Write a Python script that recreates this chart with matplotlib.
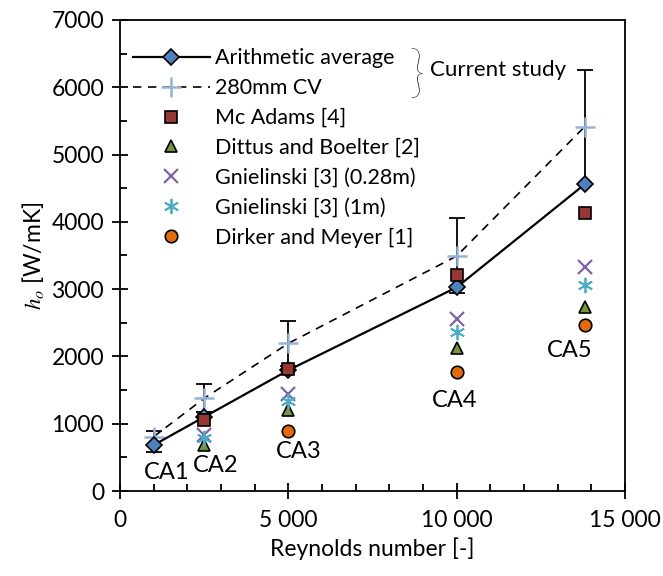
import numpy as np
import matplotlib.pyplot as plt
from matplotlib.ticker import MultipleLocator, FuncFormatter

plt.rcParams['font.family'] = ['Lato', 'DejaVu Sans']
plt.rcParams['mathtext.fontset'] = 'stix'

# Reynolds numbers of the five cases
re = [1000, 2500, 5000, 10000, 13800]
case_labels = ['CA1', 'CA2', 'CA3', 'CA4', 'CA5']

# heat transfer coefficient h_o [W/mK]
arith_avg = [683, 1100, 1795, 3027, 4557]
cv_280 = [807, 1377, 2194, 3492, 5413]
cv_low = [580, 1170, 1860, 2937, 4560]
cv_high = [896, 1585, 2526, 4057, 6256]
mc_adams = [np.nan, 1055, 1813, 3210, 4126]
dittus = [np.nan, 683, 1204, 2120, 2739]
gniel_028 = [np.nan, 832, 1445, 2551, 3324]
gniel_1 = [np.nan, 788, 1340, 2367, 3061]
dirker = [np.nan, np.nan, 894, 1773, 2467]

# where the case names sit
label_x = [1390, 2850, 5300, 9930, 13370]
label_y = [282, 386, 580, 1352, 2095]

fig = plt.figure(figsize=(6.63, 5.76), dpi=100)
ax = fig.add_axes([120 / 663, 85 / 576, 505 / 663, 471 / 576])

yerr = [np.array(cv_280) - np.array(cv_low), np.array(cv_high) - np.array(cv_280)]
ax.errorbar(re, cv_280, yerr=yerr, fmt='none', ecolor='black', elinewidth=1.3,
            capsize=6, capthick=1.3, zorder=2)

ax.plot(re, arith_avg, '-', color='black', lw=1.6, marker='D', ms=8.5,
        mfc='#4F81BD', mec='black', mew=1.2, label='Arithmetic average', zorder=4)
ax.plot(re, cv_280, '--', color='black', lw=1.2, dashes=(5, 4), marker='+', ms=14,
        mec='#95B3D7', mew=1.8, label='280mm CV', zorder=3)
ax.plot(re, mc_adams, 's', ms=8, mfc='#953735', mec='black', mew=1.2,
        label='Mc Adams [4]', zorder=5)
ax.plot(re, dittus, '^', ms=9, mfc='#77933C', mec='black', mew=1.2,
        label='Dittus and Boelter [2]', zorder=5)
ax.plot(re, gniel_028, 'x', ms=10, mec='#8064A2', mew=1.6,
        label='Gnielinski [3] (0.28m)', zorder=5)
ax.plot(re, gniel_1, '*', ms=11, mfc='none', mec='#4BACC6', mew=1.3,
        marker=(6, 2, 0), label='Gnielinski [3] (1m)', zorder=5)
ax.plot(re, dirker, 'o', ms=9, mfc='#E36C09', mec='black', mew=1.2,
        label='Dirker and Meyer [1]', zorder=5)

for lx, ly, name in zip(label_x, label_y, case_labels):
    ax.text(lx, ly, name, ha='center', va='center', fontsize=17)

ax.set_xlim(0, 15000)
ax.set_ylim(0, 7000)
ax.xaxis.set_major_locator(MultipleLocator(5000))
ax.xaxis.set_minor_locator(MultipleLocator(1000))
ax.yaxis.set_major_locator(MultipleLocator(1000))
ax.yaxis.set_minor_locator(MultipleLocator(500))
ax.xaxis.set_major_formatter(FuncFormatter(lambda v, p: f'{int(v):,}'.replace(',', ' ')))

ax.tick_params(which='major', direction='inout', length=11, width=1.3, labelsize=16.5)
ax.tick_params(which='minor', direction='in', length=5, width=1.3)
ax.tick_params(axis='x', which='major', pad=8)
ax.tick_params(axis='y', which='major', pad=6)
for s in ax.spines.values():
    s.set_linewidth(1.3)

ax.set_xlabel('Reynolds number [-]', fontsize=16.5, labelpad=5)
ax.set_ylabel(r'$h_o$ [W/mK]', fontsize=16.5, labelpad=4)

ax.legend(loc='upper left', frameon=False, fontsize=15.5, handlelength=3.6,
          handletextpad=0.25, labelspacing=0.46, borderaxespad=0.3,
          bbox_to_anchor=(-0.005, 0.972))

ax.text(0.588, 0.882, '}', transform=ax.transAxes, fontsize=40, fontweight='light',
        ha='center', va='center')
ax.text(0.614, 0.893, 'Current study', transform=ax.transAxes, fontsize=16,
        ha='left', va='center')

fig.savefig('out.png', dpi=100)
